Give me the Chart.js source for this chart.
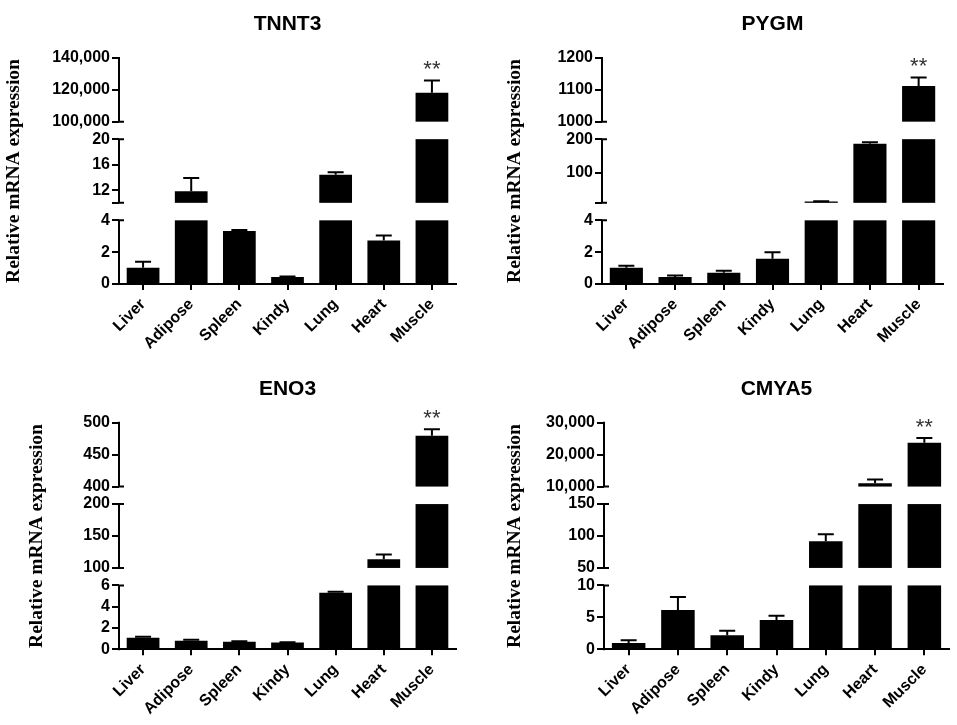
<!DOCTYPE html>
<html>
<head>
<meta charset="utf-8">
<script src="https://cdn.jsdelivr.net/npm/chart.js@4.4.0/dist/chart.umd.min.js"></script>
<style>
  html, body { margin: 0; padding: 0; background: #fff; }
  #wrap { position: relative; width: 957px; height: 725px; }
  .panel { position: absolute; }
</style>
</head>
<body>
<div id="wrap">
  <div class="panel" style="left:0;top:0;width:478px;height:360px"><canvas id="tnnt3"></canvas></div>
  <div class="panel" style="left:478px;top:0;width:479px;height:360px"><canvas id="pygm"></canvas></div>
  <div class="panel" style="left:0;top:360px;width:478px;height:365px"><canvas id="eno3"></canvas></div>
  <div class="panel" style="left:478px;top:360px;width:479px;height:365px"><canvas id="cmya5"></canvas></div>
</div>
<script>
// tissues on the x axis
const tissues = ['Liver', 'Adipose', 'Spleen', 'Kindy', 'Lung', 'Heart', 'Muscle'];

// mean and upper error (SEM) per tissue
const tnnt3Mean = [1.02, 11.8, 3.33, 0.44, 14.4, 2.73, 118100];
const tnnt3Err  = [0.38, 2.1, 0.06, 0.03, 0.4, 0.31, 7800];
const pygmMean  = [1.02, 0.44, 0.71, 1.58, 14, 186, 1112];
const pygmErr   = [0.13, 0.1, 0.12, 0.42, 1, 5, 27];
const eno3Mean  = [1.09, 0.81, 0.72, 0.63, 5.31, 113.6, 479.7];
const eno3Err   = [0.1, 0.09, 0.03, 0.03, 0.09, 7.4, 10];
const cmya5Mean = [0.99, 6.15, 2.19, 4.58, 91.9, 11040, 23750];
const cmya5Err  = [0.41, 2.05, 0.71, 0.68, 11, 1150, 1460];

// broken y axis: value ranges of the three pieces, bottom to top
const tnnt3Breaks = [[0, 4], [10, 20], [100000, 140000]];
const pygmBreaks  = [[0, 4], [10, 200], [1000, 1200]];
const eno3Breaks  = [[0, 6], [100, 200], [400, 500]];
const cmya5Breaks = [[0, 10], [50, 150], [10000, 30000]];

// tick values and their labels
const tnnt3Ticks  = [0, 2, 4, 10, 12, 16, 20, 100000, 120000, 140000];
const tnnt3Labels = ['0', '2', '4', '', '12', '16', '20', '100,000', '120,000', '140,000'];
const pygmTicks   = [0, 2, 4, 10, 100, 200, 1000, 1100, 1200];
const pygmLabels  = ['0', '2', '4', '', '100', '200', '1000', '1100', '1200'];
const eno3Ticks   = [0, 2, 4, 6, 100, 150, 200, 400, 450, 500];
const eno3Labels  = ['0', '2', '4', '6', '100', '150', '200', '400', '450', '500'];
const cmya5Ticks  = [0, 5, 10, 50, 100, 150, 10000, 20000, 30000];
const cmya5Labels = ['0', '5', '10', '50', '100', '150', '10,000', '20,000', '30,000'];

const BREAKS = { tnnt3: tnnt3Breaks, pygm: pygmBreaks, eno3: eno3Breaks, cmya5: cmya5Breaks };
const TICKS = { tnnt3: tnnt3Ticks, pygm: pygmTicks, eno3: eno3Ticks, cmya5: cmya5Ticks };
const GAP = 17.5;

// linear scale cut into equal-height pieces with a white gap between them
class BrokenScale extends Chart.LinearScale {
  static id = 'broken';
  getPixelForValue(value) {
    const segs = BREAKS[this.chart.canvas.id];
    const n = segs.length;
    const h = (this.bottom - this.top - GAP * (n - 1)) / n;
    for (let i = 0; i < n; i++) {
      if (i === n - 1 || value < segs[i + 1][0]) {
        const lo = segs[i][0], hi = segs[i][1];
        const v = Math.max(lo, Math.min(hi, value));
        return this.bottom - i * (h + GAP) - (v - lo) / (hi - lo) * h;
      }
    }
  }
  getValueForPixel() { return 0; }
  buildTicks() {
    return TICKS[this.chart.canvas.id].map(v => ({ value: v }));
  }
}
Chart.register(BrokenScale);

const breakPlugin = {
  id: 'breaks',
  afterDatasetsDraw(chart, args, opts) {
    const { ctx, chartArea: a } = chart;
    const y = chart.scales.y;
    const segs = BREAKS[chart.canvas.id];
    const mean = chart.data.datasets[0].data;
    const err = opts.err;
    ctx.save();
    // cut the bars
    ctx.fillStyle = '#fff';
    for (let i = 0; i < segs.length - 1; i++) {
      const t = y.getPixelForValue(segs[i + 1][0]);
      const b = y.getPixelForValue(segs[i][1]);
      ctx.fillRect(a.left + 1, t, a.right - a.left, b - t);
    }
    ctx.strokeStyle = '#000';
    ctx.lineWidth = 2;
    // y axis pieces, with the ends next to a break crossing the axis
    segs.forEach((s, i) => {
      const top = y.getPixelForValue(s[1]);
      const bot = i === 0 ? a.bottom + 1 : y.getPixelForValue(s[0]);
      ctx.beginPath();
      ctx.moveTo(a.left, top - 1);
      ctx.lineTo(a.left, bot + (i === 0 ? 0 : 1));
      if (i < segs.length - 1) {
        ctx.moveTo(a.left - 1, top);
        ctx.lineTo(a.left + 5, top);
      }
      if (i > 0) {
        ctx.moveTo(a.left - 1, bot);
        ctx.lineTo(a.left + 5, bot);
      }
      ctx.stroke();
    });
    // upper error bars
    const meta = chart.getDatasetMeta(0);
    meta.data.forEach((bar, i) => {
      const yv = y.getPixelForValue(mean[i]);
      const ye = y.getPixelForValue(mean[i] + err[i]);
      ctx.beginPath();
      ctx.moveTo(bar.x, yv);
      ctx.lineTo(bar.x, ye);
      ctx.moveTo(bar.x - 8, ye);
      ctx.lineTo(bar.x + 8, ye);
      ctx.stroke();
    });
    // significance stars over muscle
    const last = meta.data.length - 1;
    const ys = y.getPixelForValue(mean[last] + err[last]);
    ctx.fillStyle = '#333';
    ctx.font = '22px "Liberation Sans"';
    ctx.textAlign = 'center';
    ctx.textBaseline = 'alphabetic';
    ctx.fillText('**', meta.data[last].x, ys - 4);
    ctx.restore();
  }
};

const panels = [
  { id: 'tnnt3', title: 'TNNT3', mean: tnnt3Mean, err: tnnt3Err, labels: tnnt3Labels,
    axisW: 119, yTitlePad: 2.3, titlePad: { top: 11.4, bottom: 21.4 }, xH: 76, padR: 22 },
  { id: 'pygm', title: 'PYGM', mean: pygmMean, err: pygmErr, labels: pygmLabels,
    axisW: 124, yTitlePad: 25, titlePad: { top: 11.4, bottom: 21.4 }, xH: 76, padR: 14 },
  { id: 'eno3', title: 'ENO3', mean: eno3Mean, err: eno3Err, labels: eno3Labels,
    axisW: 119, yTitlePad: 25, titlePad: { top: 16.4, bottom: 21.1 }, xH: 75.7, padR: 22 },
  { id: 'cmya5', title: 'CMYA5', mean: cmya5Mean, err: cmya5Err, labels: cmya5Labels,
    axisW: 126, yTitlePad: 25, titlePad: { top: 16.4, bottom: 21.1 }, xH: 75.7, padR: 8 }
];

const sans = 'Liberation Sans, Arial, sans-serif';

panels.forEach(p => {
  new Chart(document.getElementById(p.id), {
    type: 'bar',
    data: {
      labels: tissues,
      datasets: [{
        data: p.mean,
        backgroundColor: '#000',
        borderWidth: 0,
        barPercentage: 0.68,
        categoryPercentage: 1
      }]
    },
    options: {
      responsive: true,
      maintainAspectRatio: false,
      animation: false,
      events: [],
      layout: { padding: { left: 0, right: p.padR, top: 0, bottom: 0 } },
      plugins: {
        legend: { display: false },
        tooltip: { enabled: false },
        title: {
          display: true,
          text: p.title,
          fullSize: false,
          color: '#000',
          font: { family: sans, size: 21, weight: 'bold' },
          padding: p.titlePad
        },
        breaks: { err: p.err }
      },
      scales: {
        x: {
          grid: { display: true, drawOnChartArea: false, offset: false, tickLength: 6, lineWidth: 2, color: '#000' },
          border: { display: true, color: '#000', width: 2 },
          ticks: {
            color: '#000',
            font: { family: sans, size: 16, weight: 'bold' },
            minRotation: 45,
            maxRotation: 45,
            padding: 5,
            autoSkip: false
          },
          afterFit: s => { s.height = p.xH; }
        },
        y: {
          type: 'broken',
          min: BREAKS[p.id][0][0],
          max: BREAKS[p.id][BREAKS[p.id].length - 1][1],
          grid: { display: true, drawOnChartArea: false, tickLength: 7, lineWidth: 2, color: '#000' },
          border: { display: false },
          ticks: {
            color: '#000',
            font: { family: sans, size: 16, weight: 'bold' },
            padding: 2,
            autoSkip: false,
            callback: (v, i) => p.labels[i]
          },
          title: {
            display: true,
            text: 'Relative mRNA expression',
            color: '#000',
            font: { family: 'Liberation Serif, Times New Roman, serif', size: 19.5, weight: 'bold' },
            padding: { top: p.yTitlePad, bottom: 0 }
          },
          afterFit: s => { s.width = p.axisW; }
        }
      }
    },
    plugins: [breakPlugin]
  });
});
</script>
</body>
</html>
